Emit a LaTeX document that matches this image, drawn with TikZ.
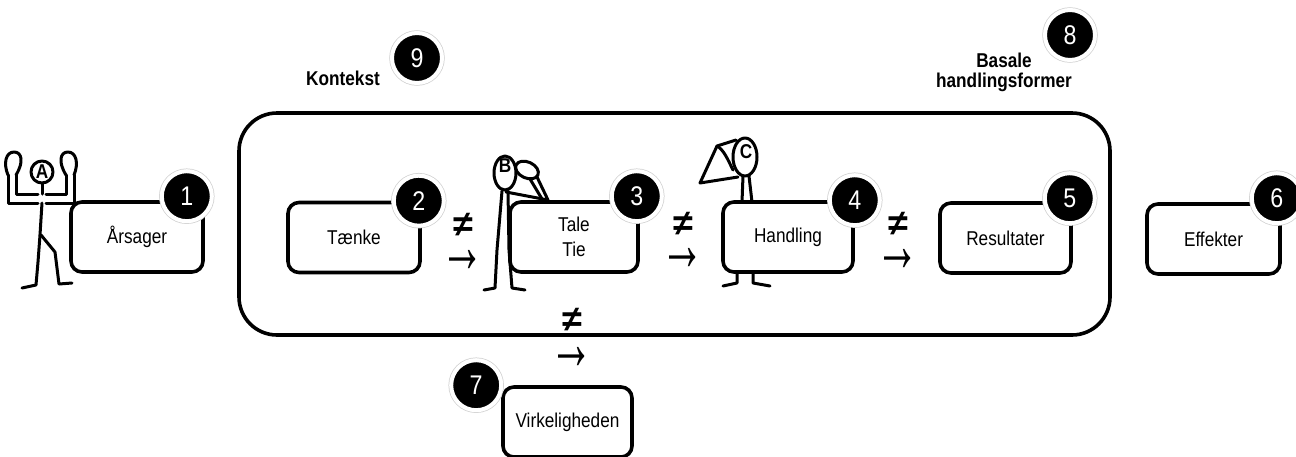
\documentclass[tikz,border=0pt]{standalone}
\usepackage{fontspec}
\setmainfont{Liberation Sans}[FakeStretch=0.86]
\newfontfamily\signfont{Liberation Sans}
\usetikzlibrary{positioning}

\begin{document}
\begin{tikzpicture}[x=1pt, y=-1pt,
    box/.style={draw, fill=white, line width=3.6pt, rounded corners=11pt, minimum width=130pt, minimum height=70pt, align=center, font=\fontsize{20}{25}\selectfont},
    num/.style={circle, fill=black, draw=white, line width=4pt, minimum size=50pt, inner sep=0pt, text=white, font=\fontsize{27}{27}\selectfont, preaction={draw=black!18, line width=5.5pt}},
    neq/.style={font=\signfont\bfseries\fontsize{36}{36}\selectfont, inner sep=0pt},
    arr/.style={font=\signfont\fontsize{52}{52}\selectfont, inner sep=0pt, anchor=base},
    fig/.style={line width=3pt, line cap=round, line join=round},
    head/.style={font=\fontsize{20}{20}\selectfont\bfseries, inner sep=0pt}]
    \useasboundingbox (0,0) rectangle (1296,456);

    % kontekst frame
    \node[draw, line width=3.6pt, rounded corners=38pt, minimum width=871pt, minimum height=222pt] (ramme) at (674.5,224) {};

    % figure A
    \draw[fig] (42,172) ellipse [x radius=11pt, y radius=11pt];
    \node[head] (fa) at (42,172) {A};
    \draw[fig] (8,175) .. controls (3,163) and (6,152) .. (14,152) .. controls (22,152) and (24,162) .. (16,175);
    \draw[fig] (74,175) .. controls (79,163) and (76,152) .. (68,152) .. controls (60,152) and (58,162) .. (66,175);
    \draw[fig] (8,175) -- (8,203) -- (38,203);
    \draw[fig] (16,175) -- (16,194) -- (38,194);
    \draw[fig] (74,175) -- (74,203) -- (46,203);
    \draw[fig] (66,175) -- (66,194) -- (46,194);
    \draw[fig] (42,183) -- (42,194);
    \draw[fig] (42,203) -- (40,235);
    \draw[fig] (40,235) -- (38,262) -- (36,285) -- (22,288);
    \draw[fig] (41,235) -- (55,252) -- (59,284) -- (72,283);

    % figure B
    \draw[fig] (505,173) ellipse [x radius=11pt, y radius=17pt];
    \node[head] (fb) at (505,166) {B};
    \draw[fig, rotate around={-25:(527,170)}] (527,170) ellipse [x radius=12pt, y radius=8pt];
    \draw[fig] (506,192) -- (548,200) -- (537,177);
    \draw[fig] (530,179) -- (542,199);
    \draw[fig] (502,191) -- (497,250) -- (495,288) -- (484,290);
    \draw[fig] (508,191) -- (509,250) -- (512,288) -- (525,290);

    % figure C
    \draw[fig] (745,157) ellipse [x radius=12pt, y radius=19pt];
    \node[head] (fc) at (746,152) {C};
    \draw[fig] (736,140) -- (717,146) -- (700,183) -- (738,177);
    \draw[fig] (717,146) .. controls (724,150) and (728,160) .. (733,170);
    \draw[fig] (743,176) -- (742,202);
    \draw[fig] (749,176) -- (752,202);
    \draw[fig] (737,272) -- (737,283) -- (723,286);
    \draw[fig] (753,272) -- (753,283) -- (770,286);

    % boxes
    \node[box, minimum width=132pt] (arsager) at (137,237) {Årsager};
    \node[box, minimum width=132pt] (tanke) at (354,237.5) {Tænke};
    \node[box, minimum width=128pt] (tale) at (574,237) {Tale\\Tie};
    \node[box] (handling) at (788,237) {Handling};
    \node[box, minimum width=131pt] (resultater) at (1005.5,238) {Resultater};
    \node[box, minimum width=133pt] (effekter) at (1213.5,239) {Effekter};
    \node[box, minimum width=129pt] (virkelighed) at (567.5,422) {Virkeligheden};

    % numbers
    \node[num] (n1) at ([xshift=-18pt, yshift=4pt]arsager.north east) {1};
    \node[num] (n2) at ([xshift=-3pt]tanke.north east) {2};
    \node[num] (n3) at ([xshift=-3pt, yshift=4pt]tale.north east) {3};
    \node[num] (n4) at (handling.north east) {4};
    \node[num] (n5) at ([xshift=-3pt, yshift=3pt]resultater.north east) {5};
    \node[num] (n6) at ([xshift=-5pt, yshift=4pt]effekter.north east) {6};
    \node[num] (n7) at ([xshift=-25pt]virkelighed.north west) {7};
    \node[num] (n8) at (1070,35) {8};
    \node[num] (n9) at (417,58) {9};

    \node[font=\fontsize{20}{20}\selectfont\bfseries] (kontekst) at (343,78) {Kontekst};
    \node[font=\fontsize{20}{20}\selectfont\bfseries, align=center] (basale) at (1004,72) {Basale\\handlingsformer};

    % not equal / arrow signs
    \node[neq] (ne1) at (463,225) {≠};
    \node[arr] (ar1) at (463,272) {\smash{\scalebox{0.85}[1.5]{→}}};
    \node[neq] (ne2) at (683,224) {≠};
    \node[arr] (ar2) at (683,270) {\smash{\scalebox{0.85}[1.5]{→}}};
    \node[neq] (ne3) at (898,224) {≠};
    \node[arr] (ar3) at (898,271) {\smash{\scalebox{0.85}[1.5]{→}}};
    \node[neq] (ne4) at (572,320) {≠};
    \node[arr] (ar4) at (572,369) {\smash{\scalebox{0.85}[1.5]{→}}};
\end{tikzpicture}
\end{document}
